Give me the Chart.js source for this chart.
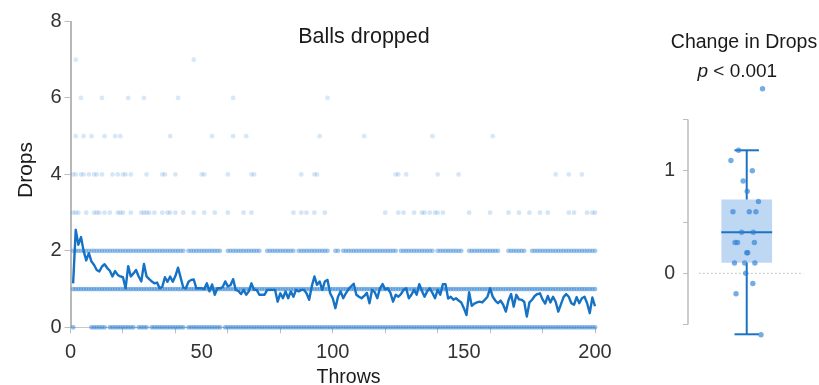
<!DOCTYPE html>
<html><head><meta charset="utf-8">
<script src="https://cdn.jsdelivr.net/npm/chart.js@4.4.1/dist/chart.umd.min.js"></script>
<style>
html,body{margin:0;padding:0;background:#fff;}
#wrap{position:relative;width:819px;height:385px;overflow:hidden;}
canvas{position:absolute;left:0;top:0;}
</style></head><body>
<div id="wrap"><canvas id="main" width="819" height="385"></canvas><canvas id="box" width="819" height="385"></canvas></div>
<script>
const FONT = "'Liberation Sans', Arial, sans-serif";

// ---- data: main panel ----
const throws = Array.from({length: 200}, (_, i) => i + 1);
const meanDrops = [
 1.15,2.55,2.16,2.36,2.0,1.75,1.94,1.72,1.63,1.5,
 1.46,1.59,1.65,1.55,1.48,1.33,1.47,1.37,1.33,1.31,
 1.02,1.6,1.33,1.41,1.5,1.33,1.2,1.66,1.33,1.26,
 1.2,1.15,1.17,1.02,1.06,1.31,1.19,1.33,1.19,1.34,
 1.56,1.3,1.04,1.02,1.19,1.24,1.25,1.02,1.02,1.02,
 1.0,1.15,0.94,1.12,0.85,1.02,1.02,1.05,1.2,1.07,
 1.1,1.26,0.98,0.95,0.87,0.98,0.85,0.94,1.15,0.98,
 0.98,0.85,0.85,0.85,0.98,0.98,0.98,0.98,0.67,0.89,
 0.76,0.94,0.76,0.94,0.8,0.98,0.94,0.98,0.98,0.89,
 0.72,1.07,1.33,1.11,1.2,0.98,1.2,1.24,0.89,0.76,
 0.5,0.8,0.94,0.76,0.89,1.0,1.07,1.14,0.85,0.8,
 0.76,0.82,0.9,0.63,0.98,0.92,0.76,1.02,1.13,0.99,
 1.02,0.9,0.67,0.85,0.8,0.87,0.98,1.02,0.76,0.85,
 0.98,0.85,1.13,0.95,0.8,0.94,1.02,0.9,0.76,0.98,
 0.85,1.13,1.13,0.75,0.8,0.72,0.76,0.7,0.65,0.5,
 0.32,0.92,0.56,0.62,0.65,0.67,0.65,0.72,0.8,1.02,
 0.8,0.7,0.63,0.7,0.59,0.41,0.7,0.87,0.54,0.85,
 0.73,0.72,0.67,0.28,0.65,0.72,0.82,0.87,0.89,0.73,
 0.62,0.82,0.65,0.8,0.67,0.41,0.6,0.79,0.87,0.8,
 0.63,0.59,0.79,0.63,0.76,0.8,0.63,0.37,0.78,0.55
];
// individual drops: throws where a dot appears at each drop count
const row0Missing = [2,3,4,5,6,7,14,25,30,44,58];
const row1Missing = [];
const row2Missing = [44,58,59,73,74,86,99,100,103,125,139,150,151,164,165,166,174,175];
const row3Throws = [1,2,3,6,9,10,11,13,15,18,19,20,23,27,28,29,30,32,35,37,38,40,43,47,51,55,60,66,69,85,88,90,93,97,120,125,127,131,134,135,137,139,140,142,152,160,167,171,175,179,182,190,192,197,199,200];
const row4Throws = [1,2,4,5,7,9,10,12,16,18,20,21,23,29,35,36,40,50,51,60,69,70,88,93,94,124,125,128,140,148,185,190,195];
const row5Throws = [2,5,8,13,17,19,38,54,62,67,95,112,138,161];
const row6Throws = [4,12,22,28,41,62,98];
const row7Throws = [2,47];
const xTickLabels = [0,50,100,150,200];
const yTickLabels = [0,2,4,6,8];

// ---- data: change panel ----
const changeValues = [1.8,1.2,1.1,1.0,0.9,0.8,0.7,0.6,0.6,0.6,0.4,0.4,0.3,0.3,0.3,0.2,0.2,0.1,0.1,0.1,0.0,-0.1,-0.2,-0.6];
const changeJitter = [0.31,-0.16,-0.31,0.11,-0.07,0.01,0.23,-0.27,0.05,0.18,-0.10,0.13,-0.23,-0.18,0.15,0.0,0.02,-0.24,-0.04,0.16,-0.02,0.12,-0.21,0.28];
const boxSummary = [-0.595, 0.104, 0.40, 0.72, 1.20]; // min, q1, median, q3, max
const boxTicks = [-0.5, 0, 0.5, 1, 1.5];
const boxTickLabels = ['', '0', '', '1', ''];

// ---- build ----
const present = missing => throws.filter(t => !missing.includes(t));
const rowPts = (list, y) => list.map(t => ({x: t, y}));
const dotSet = (pts, a) => ({type: 'scatter', data: pts, pointRadius: 2.4, pointHoverRadius: 2.4,
  backgroundColor: `rgba(55,135,212,${a})`, borderWidth: 0, clip: false});

const titlePlugin = {
  id: 'mainTitles',
  afterDraw(chart) {
    const c = chart.ctx; c.save();
    c.fillStyle = '#1a1a1a'; c.textBaseline = 'alphabetic'; c.textAlign = 'center';
    c.font = `21.5px ${FONT}`;
    c.fillText('Balls dropped', 364, 42.5);
    c.font = `19.5px ${FONT}`;
    c.fillText('Throws', 348.5, 382.5);
    c.translate(26, 170); c.rotate(-Math.PI / 2);
    c.textBaseline = 'middle'; c.font = `21px ${FONT}`;
    c.fillText('Drops', 0, 0);
    c.restore();
  }
};

new Chart(document.getElementById('main'), {
  type: 'line',
  data: {datasets: [
    {type: 'line', data: throws.map((t, i) => ({x: t, y: meanDrops[i]})), borderColor: '#1672c4',
     borderWidth: 2.4, pointRadius: 0, fill: false, tension: 0, clip: false, borderJoinStyle: 'round'},
    dotSet(rowPts(present(row1Missing), 1), 0.55),
    dotSet(rowPts(present(row0Missing), 0), 0.55),
    dotSet(rowPts(present(row2Missing), 2), 0.45),
    dotSet(rowPts(row3Throws, 3), 0.22),
    dotSet(rowPts(row4Throws, 4), 0.2),
    dotSet(rowPts(row5Throws, 5), 0.19),
    dotSet(rowPts(row6Throws, 6), 0.19),
    dotSet(rowPts(row7Throws, 7), 0.19)
  ]},
  options: {
    responsive: false, devicePixelRatio: 1, animation: false,
    layout: {padding: {left: 0, top: 21.5, right: 224, bottom: 0}},
    plugins: {legend: {display: false}, tooltip: {enabled: false}},
    scales: {
      x: {type: 'linear', min: 0, max: 200,
        afterFit: s => { s.height = 57.7; },
        ticks: {stepSize: 10, autoSkip: false, maxRotation: 0, padding: 7, color: '#333',
          font: {family: FONT, size: 20},
          callback: v => xTickLabels.includes(v) ? String(v) : ''},
        grid: {drawOnChartArea: false, tickLength: 6,
          color: ctx => (ctx.tick && ctx.tick.value % 20 === 0) ? '#bdbdbd' : 'rgba(0,0,0,0)'},
        border: {color: '#c8c8c8', width: 1}
      },
      y: {type: 'linear', min: 0, max: 8,
        afterFit: s => { s.width = 70.5; },
        afterBuildTicks: s => { s.ticks = yTickLabels.map(v => ({value: v})); },
        ticks: {padding: 3, color: '#333', font: {family: FONT, size: 20}},
        grid: {drawOnChartArea: false, tickLength: 6, color: '#bdbdbd'},
        border: {color: '#b8b8b8', width: 2}
      }
    }
  },
  plugins: [titlePlugin]
});

const [bMin, bQ1, bMed, bQ3, bMax] = boxSummary;
const boxBlue = '#1b74c3';
const L = (pts, extra) => Object.assign({type: 'line', data: pts, pointRadius: 0, borderWidth: 2,
  borderColor: boxBlue, clip: false, fill: false, tension: 0}, extra || {});

const boxTitlePlugin = {
  id: 'boxTitle',
  beforeDatasetsDraw(chart) {
    const c = chart.ctx, y = chart.scales.y, a = chart.chartArea;
    c.save(); c.strokeStyle = '#bdbdbd'; c.lineWidth = 1.5;
    c.beginPath();
    c.moveTo(a.left, y.getPixelForValue(boxTicks[0]));
    c.lineTo(a.left, y.getPixelForValue(boxTicks[boxTicks.length - 1]));
    c.stroke(); c.restore();
  },
  afterDraw(chart) {
    const c = chart.ctx; c.save();
    c.fillStyle = '#1a1a1a'; c.textBaseline = 'alphabetic';
    c.font = `19.5px ${FONT}`; c.textAlign = 'center';
    c.fillText('Change in Drops', 744, 48);
    const rest = ' < 0.001';
    c.font = `italic 19px ${FONT}`; const wp = c.measureText('p').width;
    c.font = `19px ${FONT}`; const wr = c.measureText(rest).width;
    const x0 = 737.3 - (wp + wr) / 2;
    c.textAlign = 'left';
    c.font = `italic 19px ${FONT}`; c.fillText('p', x0, 76.7);
    c.font = `19px ${FONT}`; c.fillText(rest, x0 + wp, 76.7);
    c.restore();
  }
};

new Chart(document.getElementById('box'), {
  type: 'line',
  data: {datasets: [
    {type: 'scatter', data: changeValues.map((v, i) => ({x: changeJitter[i], y: v})), pointRadius: 2.7,
     pointHoverRadius: 2.7, backgroundColor: 'rgba(45,128,215,0.65)', borderWidth: 0, clip: false},
    L([{x: -0.5, y: bMed}, {x: 0.5, y: bMed}]),
    L([{x: 0, y: bQ3}, {x: 0, y: bMax}]),
    L([{x: 0, y: bQ1}, {x: 0, y: bMin}]),
    L([{x: -0.24, y: bMax}, {x: 0.24, y: bMax}]),
    L([{x: -0.24, y: bMin}, {x: 0.24, y: bMin}]),
    L([{x: -0.5, y: bQ3}, {x: 0.5, y: bQ3}], {borderWidth: 0, fill: '+1', backgroundColor: 'rgba(70,140,220,0.35)'}),
    L([{x: -0.5, y: bQ1}, {x: 0.5, y: bQ1}], {borderWidth: 0}),
    L([{x: -0.94, y: 0}, {x: 1.11, y: 0}], {borderColor: '#c4c4c4', borderWidth: 1, borderDash: [2, 2]})
  ]},
  options: {
    responsive: false, devicePixelRatio: 1, animation: false,
    layout: {padding: {left: 658, right: 1, top: 78.55, bottom: 39.95}},
    plugins: {legend: {display: false}, tooltip: {enabled: false}},
    scales: {
      x: {type: 'linear', display: false, min: -1.153, max: 1.366},
      y: {type: 'linear', min: -0.7, max: 1.9,
        afterFit: s => { s.width = 30; },
        afterBuildTicks: s => { s.ticks = boxTicks.map(v => ({value: v})); },
        ticks: {padding: 8, color: '#333', font: {family: FONT, size: 19.5},
          callback: (v, i) => boxTickLabels[i]},
        grid: {drawOnChartArea: false, tickLength: 5, color: '#bdbdbd'},
        border: {display: false}
      }
    }
  },
  plugins: [boxTitlePlugin]
});
</script>
</body></html>
